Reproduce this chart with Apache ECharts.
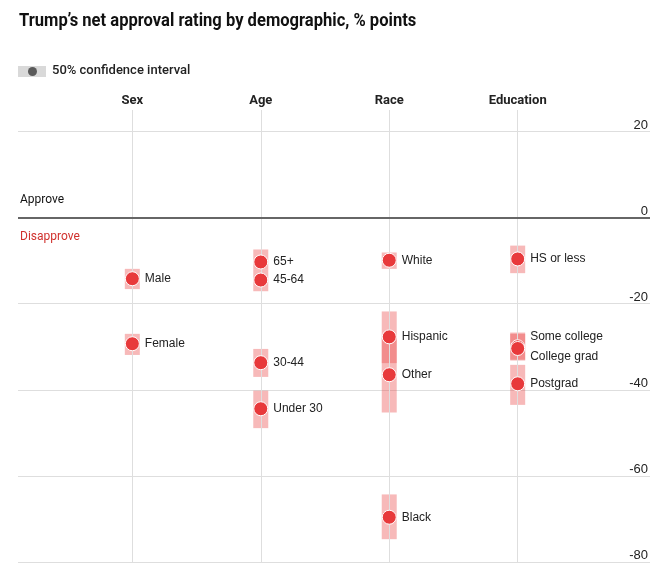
<!DOCTYPE html>
<html>
<head>
<meta charset="utf-8">
<script src="https://cdn.jsdelivr.net/npm/echarts@6/dist/echarts.min.js"></script>
<style>
  html, body { margin: 0; padding: 0; background: #fff; }
  #chart { width: 668px; height: 573px; }
</style>
</head>
<body>
<div id="chart"></div>
<script>
// demographic groups (columns) and subgroups
const groups = ['Sex', 'Age', 'Race', 'Education'];
const subgroups = ['Male', 'Female', '65+', '45-64', '30-44', 'Under 30',
  'White', 'Hispanic', 'Other', 'Black',
  'HS or less', 'Some college', 'College grad', 'Postgrad'];
const groupOf = [0, 0, 1, 1, 1, 1, 2, 2, 2, 2, 3, 3, 3, 3];
// net approval, % points
const netApproval = [-14.2, -29.3, -10.3, -14.5, -33.7, -44.4,
  -9.9, -27.7, -36.5, -69.6, -9.6, -30.0, -30.4, -38.6];
// 50% confidence interval
const ciHigh = [-11.9, -27.0, -7.4, -12.0, -30.5, -40.2,
  -8.1, -21.8, -27.9, -64.3, -6.5, -26.7, -27.0, -34.2];
const ciLow = [-16.6, -31.9, -12.0, -17.1, -37.0, -48.9,
  -11.9, -33.8, -45.3, -74.7, -12.9, -33.0, -33.2, -43.5];

const COND = "Roboto, 'DejaVu Sans Condensed', sans-serif";
const SANS = "'Liberation Sans', Arial, sans-serif";
const labelShift = { 'Some college': -10, 'College grad': 8 };

const chart = echarts.init(document.getElementById('chart'));

chart.setOption({
  animation: false,
  textStyle: { fontFamily: SANS },
  graphic: [
    { type: 'text', left: 19, top: 12, scaleX: 0.92,
      style: { text: 'Trump\u2019s net approval rating by demographic, % points', font: 'bold 18px ' + COND, fill: '#111' } },
    { type: 'rect', left: 18, top: 66, shape: { width: 28, height: 11 }, style: { fill: '#d9d9d9' } },
    { type: 'circle', left: 28, top: 67, shape: { r: 4.5 }, style: { fill: '#5a5a5a' } },
    { type: 'text', left: 52, top: 64, style: { text: '50% confidence interval', font: '500 13px ' + COND, fill: '#222' } },
    { type: 'text', left: 20, top: 194, style: { text: 'Approve', font: '12px ' + COND, fill: '#111' } },
    { type: 'text', left: 20, top: 231, style: { text: 'Disapprove', font: '12px ' + COND, fill: '#d0312d' } }
  ],
  grid: { left: 18, right: 18, top: 110, bottom: 11 },
  xAxis: {
    type: 'value',
    position: 'top',
    min: -0.89,
    max: 4.03,
    axisLine: { show: false },
    axisTick: { show: false },
    splitLine: { show: false },
    axisLabel: {
      customValues: [0, 1, 2, 3],
      formatter: v => groups[v],
      margin: 3,
      fontFamily: COND,
      fontSize: 13,
      fontWeight: 'bold',
      color: '#222'
    }
  },
  yAxis: {
    type: 'value',
    position: 'right',
    min: -80,
    max: 25,
    interval: 20,
    axisLine: { show: false },
    axisTick: { show: false },
    splitLine: { showMaxLine: false, lineStyle: { color: '#dedede', width: 1 } },
    axisLabel: {
      inside: true,
      showMaxLabel: false,
      margin: 2,
      verticalAlign: 'bottom',
      fontFamily: SANS,
      fontSize: 13,
      color: '#222'
    }
  },
  series: [
    {
      type: 'custom',
      name: 'ci',
      silent: true,
      z: 1,
      data: subgroups.map((s, i) => [groupOf[i], ciHigh[i], ciLow[i]]),
      renderItem(params, api) {
        const top = api.coord([api.value(0), api.value(1)]);
        const bot = api.coord([api.value(0), api.value(2)]);
        return {
          type: 'rect',
          shape: { x: top[0] - 7.5, y: top[1], width: 15, height: bot[1] - top[1] },
          style: { fill: 'rgba(232,62,62,0.36)' }
        };
      },
      markLine: {
        silent: true,
        symbol: ['none', 'none'],
        label: { show: false },
        data: groups.map((g, i) => ({ xAxis: i, lineStyle: { color: '#dedede', width: 1, type: 'solid' } }))
          .concat([{ yAxis: 0, lineStyle: { color: '#666', width: 2, type: 'solid' } }])
      }
    },
    {
      type: 'scatter',
      name: 'net',
      z: 10,
      symbolSize: 14,
      itemStyle: { color: '#e8393b', borderColor: '#fff', borderWidth: 1, opacity: 1 },
      label: {
        show: true,
        position: 'right',
        distance: 5,
        fontSize: 12,
        color: '#222',
        formatter: p => p.name
      },
      data: subgroups.map((s, i) => ({
        name: s,
        value: [groupOf[i], netApproval[i]],
        label: { offset: [0, labelShift[s] || 0] }
      }))
    }
  ]
});
</script>
</body>
</html>
